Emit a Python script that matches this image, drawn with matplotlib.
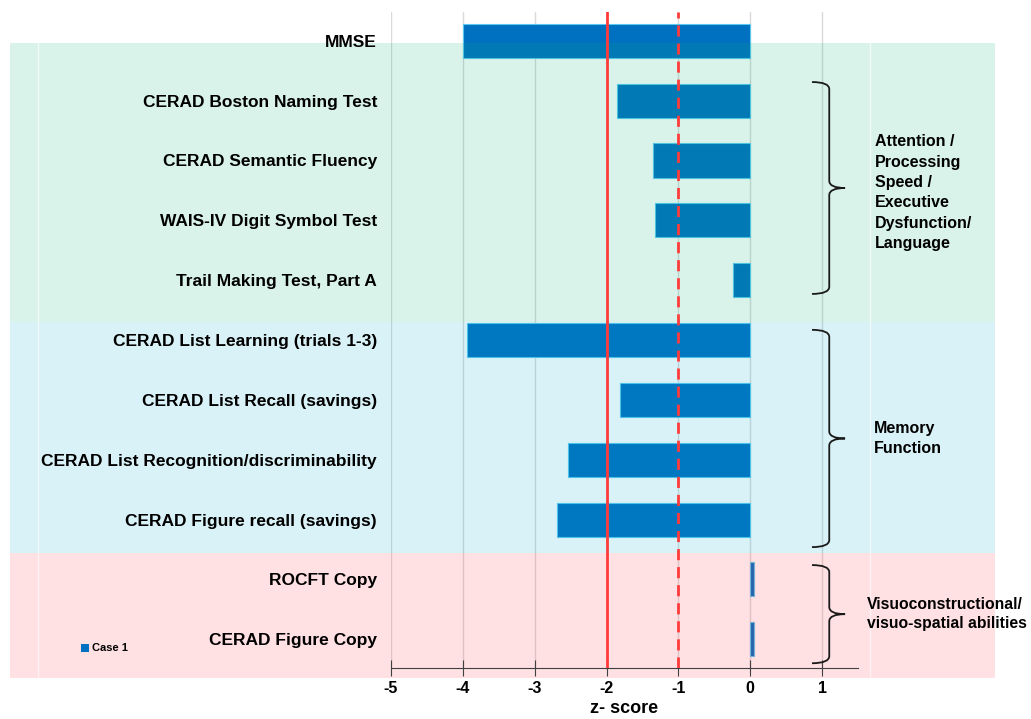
import matplotlib.pyplot as plt
from matplotlib.path import Path
from matplotlib.patches import PathPatch, Rectangle
from matplotlib.transforms import blended_transform_factory

plt.rcParams['font.family'] = ['Liberation Sans', 'DejaVu Sans']

tests = ["MMSE",
         "CERAD Boston Naming Test",
         "CERAD Semantic Fluency",
         "WAIS-IV Digit Symbol Test",
         "Trail Making Test, Part A",
         "CERAD List Learning (trials 1-3)",
         "CERAD List Recall (savings)",
         "CERAD List Recognition/discriminability",
         "CERAD Figure recall (savings)",
         "ROCFT Copy",
         "CERAD Figure Copy"]
z_scores = [-4.0, -1.85, -1.35, -1.32, -0.24, -3.94, -1.81, -2.53, -2.69, 0.05, 0.05]
xticks = [-5, -4, -3, -2, -1, 0, 1]

# domain groups: (label, first row, last row)
groups = [("Attention /\nProcessing\nSpeed /\nExecutive\nDysfunction/\nLanguage", 1, 4),
          ("Memory\nFunction", 5, 8),
          ("Visuoconstructional/\nvisuo-spatial abilities", 9, 10)]

n = len(tests)
ypos = [n - 1 - i for i in range(n)]

fig = plt.figure(figsize=(10.31, 7.19), dpi=100)
ax = fig.add_axes([0.3792, 0.0709, 0.4530, 0.9124])
ax.set_xlim(-5, 1.5)
ax.set_ylim(-0.48, 10.48)

for x in xticks:
    ax.plot([x, x], [-0.48, 10.48], color='#dadada', lw=1, zorder=0.5)

ax.barh(ypos, z_scores, height=0.57, color='#0070C0', edgecolor='#5bc8f0',
        linewidth=0.8, zorder=1)

# coloured domain bands across the whole figure
tr = blended_transform_factory(fig.transFigure, ax.transData)
bands = [(5.30, 9.97, (0, 176/255, 120/255)),
         (1.44, 5.30, (0, 168/255, 202/255)),
         (-0.64, 1.44, (1.0, 48/255, 68/255))]
for y0, y1, c in bands:
    ax.add_patch(Rectangle((0.0097, y0), 0.9553, y1 - y0, transform=tr,
                           facecolor=c, alpha=0.15, edgecolor='none',
                           clip_on=False, zorder=1.5))
for fx in [0.0369, 0.8438]:
    ax.plot([fx, fx], [-0.64, 9.97], transform=tr, color='white', lw=1,
            alpha=0.6, clip_on=False, zorder=1.6)

ax.plot([-2, -2], [-0.48, 10.48], color='#ff3b3b', lw=2, zorder=3)
ax.plot([-1, -1], [-0.48, 10.48], color='#ff3b3b', lw=2, ls=(0, (4, 2.5)), zorder=3)

for s in ['top', 'right', 'left']:
    ax.spines[s].set_visible(False)
ax.spines['bottom'].set_color('#404040')
ax.set_xticks(xticks)
ax.set_xticklabels([str(x) for x in xticks], fontsize=11.5, fontweight='bold')
ax.tick_params(axis='x', direction='inout', length=12, color='#404040', pad=3)
ax.set_yticks(ypos)
ax.set_yticklabels(tests, fontsize=12.5, fontweight='bold')
ax.tick_params(axis='y', length=0, pad=10)
ax.set_xlabel("z- score", fontsize=13, fontweight='bold', labelpad=3)

# curly brackets
def brace(top, bot, x0=0.86, x1=1.10, x2=1.32):
    mid = (top + bot) / 2
    d = 0.12
    verts = [(x0, top), (x1, top), (x1, top - d),
             (x1, mid + d), (x1, mid), (x2, mid),
             (x1, mid), (x1, mid - d),
             (x1, bot + d), (x1, bot), (x0, bot)]
    codes = [Path.MOVETO, Path.CURVE3, Path.CURVE3,
             Path.LINETO, Path.CURVE3, Path.CURVE3,
             Path.CURVE3, Path.CURVE3,
             Path.LINETO, Path.CURVE3, Path.CURVE3]
    ax.add_patch(PathPatch(Path(verts, codes), fill=False, lw=1.3,
                           edgecolor='#1a1a1a', clip_on=False, zorder=4))
    return mid

bracket_spans = [(9.31, 5.77), (5.17, 1.54), (1.24, -0.40)]
label_x = [1.73, 1.72, 1.62]
label_dy = [-0.08, 0.0, 0.0]
label_fs = [11.5, 11.5, 11.3]
label_ls = [1.45, 1.45, 1.3]
for (label, _, _), (top, bot), lx, dy, fs, ls in zip(groups, bracket_spans, label_x,
                                                      label_dy, label_fs, label_ls):
    mid = brace(top, bot)
    ax.text(lx, mid + dy, label, fontsize=fs, fontweight='bold', ha='left',
            va='center', linespacing=ls, clip_on=False)

# legend
fig.patches.append(Rectangle((0.0785, 0.0935), 0.0075, 0.011, transform=fig.transFigure,
                             facecolor='#0070C0', edgecolor='none'))
fig.text(0.089, 0.0985, "Case 1", fontsize=8, fontweight='bold', va='center')

fig.savefig("out.png", dpi=100)
